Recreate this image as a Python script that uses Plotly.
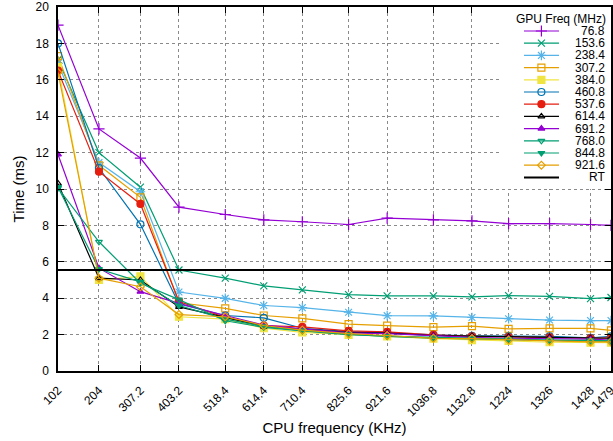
import plotly.graph_objects as go

# ---------------- data ----------------
cpu_freq = [102, 204, 307.2, 403.2, 518.4, 614.4, 710.4, 825.6, 921.6, 1036.8, 1132.8, 1224, 1326, 1428, 1479]
cpu_labels = ["102", "204", "307.2", "403.2", "518.4", "614.4", "710.4", "825.6", "921.6",
              "1036.8", "1132.8", "1224", "1326", "1428", "1479"]

gpu_freqs = ["76.8", "153.6", "238.4", "307.2", "384.0", "460.8", "537.6", "614.4",
             "691.2", "768.0", "844.8", "921.6"]

t_76_8 = [19.0, 13.3, 11.7, 9.0, 8.6, 8.3, 8.2, 8.05, 8.4, 8.3, 8.25, 8.1, 8.1, 8.05, 8.0]
t_153_6 = [17.1, 12.0, 10.1, 5.55, 5.1, 4.68, 4.46, 4.2, 4.13, 4.13, 4.07, 4.14, 4.1, 3.98, 4.04]
t_238_4 = [16.9, 11.45, 9.85, 4.34, 3.99, 3.6, 3.48, 3.23, 3.04, 3.03, 2.94, 2.87, 2.8, 2.77, 2.77]
t_307_2 = [17.3, 11.3, 9.54, 3.75, 3.44, 3.05, 2.89, 2.58, 2.49, 2.41, 2.47, 2.31, 2.34, 2.34, 2.23]
t_384_0 = [16.7, 5.0, 5.2, 2.98, 2.85, 2.35, 2.12, 1.98, 1.9, 1.78, 1.7, 1.65, 1.58, 1.56, 1.56]
t_460_8 = [18.0, 11.15, 8.06, 3.68, 3.05, 2.92, 2.35, 2.18, 2.1, 1.98, 1.93, 1.9, 1.9, 1.82, 1.9]
t_537_6 = [16.5, 10.95, 9.18, 3.82, 2.95, 2.5, 2.42, 2.2, 2.15, 1.98, 1.9, 1.86, 1.85, 1.8, 1.82]
t_614_4 = [10.3, 5.1, 5.0, 3.52, 2.95, 2.45, 2.3, 2.12, 2.08, 1.95, 1.92, 1.88, 1.86, 1.8, 1.8]
t_691_2 = [11.9, 5.65, 4.36, 3.72, 3.05, 2.52, 2.32, 2.1, 2.05, 1.92, 1.85, 1.8, 1.78, 1.75, 1.7]
t_768_0 = [10.05, 7.1, 4.82, 3.92, 2.76, 2.4, 2.2, 2.0, 1.92, 1.85, 1.8, 1.75, 1.7, 1.68, 1.66]
t_844_8 = [10.1, 5.6, 4.9, 3.6, 2.85, 2.45, 2.22, 2.02, 1.9, 1.8, 1.76, 1.72, 1.68, 1.65, 1.62]
t_921_6 = [16.4, 5.1, 4.63, 3.1, 2.98, 2.5, 2.25, 2.05, 1.95, 1.8, 1.78, 1.7, 1.65, 1.6, 1.6]

rt_value = 5.55

series = [t_76_8, t_153_6, t_238_4, t_307_2, t_384_0, t_460_8, t_537_6, t_614_4,
          t_691_2, t_768_0, t_844_8, t_921_6]

# ---------------- styles ----------------
colors = ["#9400d3", "#009e73", "#56b4e9", "#e69f00", "#f0e442", "#0072b2", "#e51e10",
          "#000000", "#9400d3", "#009e73", "#009e73", "#e69f00"]
symbols = ["cross-thin-open", "x-thin-open", "asterisk-open", "square-open", "square",
           "circle-open", "circle", "triangle-up-open", "triangle-up", "triangle-down-open",
           "triangle-down", "diamond-open"]
sizes = [8, 7, 8, 7, 7, 7, 7, 6, 6, 6, 6, 6]

FONT = "Liberation Sans, Arial, Helvetica, sans-serif"

fig = go.Figure()

for name, ys, c, s, sz in zip(gpu_freqs, series, colors, symbols, sizes):
    fig.add_trace(go.Scatter(
        x=cpu_freq, y=ys, mode="lines+markers", name=name, showlegend=False,
        line=dict(color=c, width=1.2),
        marker=dict(symbol=s, size=sz, color=c, line=dict(color=c, width=1.2)),
        xaxis="x", yaxis="y"))

fig.add_trace(go.Scatter(
    x=[cpu_freq[0], cpu_freq[-1]], y=[rt_value, rt_value], mode="lines", name="RT",
    showlegend=False, line=dict(color="black", width=2), xaxis="x", yaxis="y"))

# ---------------- hand-made legend (compact, gnuplot-like key) ----------------
LW = 110.6   # legend axis width units (= px)
LH = 182.0   # legend axis height units (= px)
box_x0, box_x1, box_y0, box_y1 = 6, 103, 6, 178
fig.add_trace(go.Scatter(
    x=[box_x0, box_x1, box_x1, box_x0, box_x0], y=[box_y0, box_y0, box_y1, box_y1, box_y0],
    mode="lines", fill="toself", fillcolor="white", line=dict(width=0, color="white"),
    hoverinfo="skip", showlegend=False, xaxis="x2", yaxis="y2"))

key_names = gpu_freqs + ["RT"]
key_colors = colors + ["#000000"]
row0, row_step = 24.0, 12.2
samp_x0, samp_x1, samp_xm = 23.6, 58.6, 41.0
text_x = 106.0
annotations = []
for i, (nm, c) in enumerate(zip(key_names, key_colors)):
    yy = row0 + row_step * i
    is_rt = nm == "RT"
    fig.add_trace(go.Scatter(
        x=[samp_x0, samp_x1], y=[yy, yy], mode="lines",
        line=dict(color=c, width=2 if is_rt else 1.2),
        hoverinfo="skip", showlegend=False, xaxis="x2", yaxis="y2"))
    if not is_rt:
        fig.add_trace(go.Scatter(
            x=[samp_xm], y=[yy], mode="markers",
            marker=dict(symbol=symbols[i], size=sizes[i], color=c, line=dict(color=c, width=1.2)),
            hoverinfo="skip", showlegend=False, xaxis="x2", yaxis="y2"))
    annotations.append(dict(x=text_x, y=yy, xref="x2", yref="y2", text=nm, showarrow=False,
                            xanchor="right", yanchor="middle", borderpad=0,
                            font=dict(family=FONT, size=12, color="black")))
annotations.append(dict(x=text_x + 1.0, y=12.3, xref="x2", yref="y2", text="GPU Freq (MHz)",
                        showarrow=False, xanchor="right", yanchor="middle", borderpad=0,
                        font=dict(family=FONT, size=12, color="black")))

axis_common = dict(showline=True, linecolor="black", linewidth=1.5, mirror="ticks",
                   ticks="inside", ticklen=6, tickcolor="black", tickwidth=1,
                   showgrid=True, gridcolor="#8a8a8a", griddash="dot", gridwidth=1,
                   zeroline=False, automargin=False,
                   tickfont=dict(family=FONT, size=12, color="black"))

fig.update_layout(
    width=613, height=441,
    margin=dict(l=58, r=2, t=7, b=70),
    paper_bgcolor="white", plot_bgcolor="white",
    font=dict(family=FONT, color="black"),
    showlegend=False,
    annotations=annotations,
    xaxis=dict(range=[cpu_freq[0], cpu_freq[-1]], tickvals=cpu_freq, ticktext=cpu_labels,
               tickangle=-45, ticklabelstandoff=6, ticklabeloverflow="allow",
               title=dict(text="CPU frequency (KHz)", font=dict(family=FONT, size=15), standoff=3),
               **axis_common),
    yaxis=dict(range=[0, 20], tickvals=list(range(0, 21, 2)), ticklabelstandoff=5,
               title=dict(text="Time (ms)", font=dict(family=FONT, size=15), standoff=7),
               **axis_common),
    xaxis2=dict(domain=[0.8, 1.0], range=[0, LW], visible=False, fixedrange=True, anchor="y2"),
    yaxis2=dict(domain=[0.5, 1.0], range=[LH, 0], visible=False, fixedrange=True, anchor="x2"),
)

fig.write_html("out.html", config={"displayModeBar": False},
               post_script="document.body.style.margin='0';document.body.style.padding='0';")
